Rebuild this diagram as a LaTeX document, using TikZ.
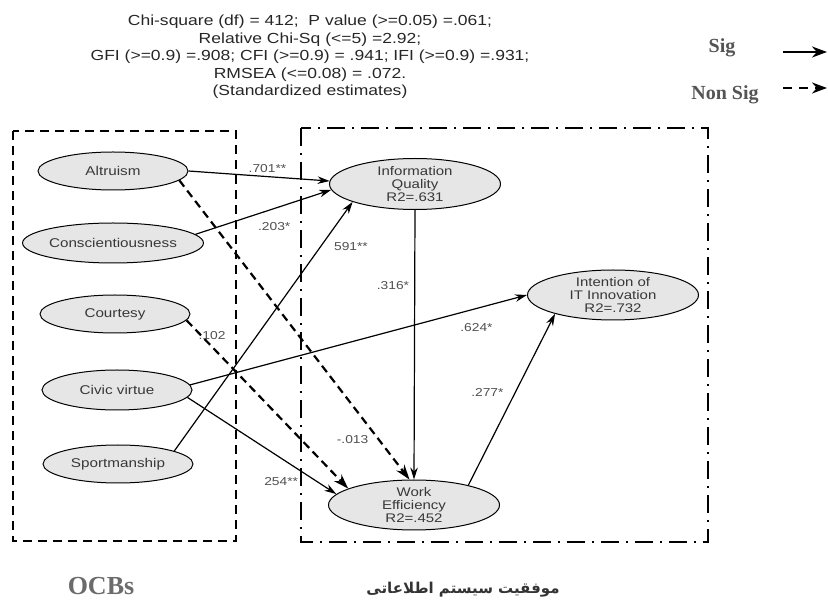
\documentclass[tikz,border=0pt]{standalone}
\usepackage{fontspec}
\setmainfont[FakeStretch=1.2]{Liberation Sans}
\newfontfamily\legendfont{Liberation Serif}
\newfontfamily\farsifont[Script=Arabic]{DejaVu Sans}
\TeXXeTstate=1
\usetikzlibrary{shapes.geometric, arrows.meta, positioning}
\definecolor{ellFill}{HTML}{E6E6E6}
\definecolor{ellText}{HTML}{383838}
\definecolor{lblGray}{HTML}{505050}
\definecolor{legGray}{HTML}{555555}
\definecolor{ocbGray}{HTML}{6B6B6B}
\tikzset{
    >={Stealth[length=12pt, width=7.5pt]},
    % Shapes
    latent/.style={ellipse, draw, line width=1pt, fill=ellFill, text=ellText,
                   minimum width=150pt, minimum height=38pt, inner sep=0pt,
                   font=\fontsize{12.7}{14}\selectfont},
    endo/.style={latent, minimum width=171pt, minimum height=51pt, align=center,
                 font=\fontsize{12.5}{12.8}\selectfont},
    hdr/.style={align=center, text=black!85, font=\fontsize{14.6}{17.5}\selectfont},
    legend/.style={text=legGray, font=\legendfont\bfseries\fontsize{20}{22}\selectfont},
    % Frames
    ocbFrame/.style={line width=2.2pt, dash pattern=on 9pt off 6pt},
    ismFrame/.style={line width=2.2pt, dash pattern=on 18pt off 7pt on 2pt off 7pt},
    % Flow & Labels
    sigPath/.style={->, line width=1.2pt},
    nsPath/.style={-{Stealth[length=15pt, width=10pt]}, line width=2.2pt, dash pattern=on 8pt off 5pt},
    legArrow/.style={-{Stealth[length=15pt, width=11pt]}, line width=2.2pt},
    lbl/.style={font=\fontsize{11.5}{13}\selectfont, text=lblGray, inner sep=1pt}
}

\begin{document}
\begin{tikzpicture}[x=1pt, y=-1pt]
\useasboundingbox (0,0) rectangle (828,601);

% fit indices
\node[hdr] (fitIdx) at (310,57) {Chi-square (df) = 412;~~P value (>=0.05) =.061;\\
    Relative Chi-Sq (<=5) =2.92;\\
    GFI (>=0.9) =.908; CFI (>=0.9) = .941; IFI (>=0.9) =.931;\\
    RMSEA (<=0.08) = .072.\\
    (Standardized estimates)};

% legend
\node[legend] (sigTxt) at (722,48) {Sig};
\node[legend] (nsTxt) at (725,95) {Non Sig};
\coordinate (sigFrom) at (783,52);
\coordinate (sigTo) at (827,52);
\coordinate (nsFrom) at (783,88);
\coordinate (nsTo) at (827,88);
\draw[legArrow] (sigFrom) -- (sigTo);
\draw[legArrow, dash pattern=on 9pt off 7pt] (nsFrom) -- (nsTo);

% frames
\draw[ocbFrame] (13,131) rectangle (236,541);
\draw[ismFrame] (301,128) rectangle (708,542);

% OCB dimensions
\node[latent] (alt) at (113,171) {Altruism};
\node[latent, minimum height=40pt] (consc) at (113,243) {Conscientiousness};
\node[latent] (court) at (115,314) {Courtesy};
\node[latent, minimum height=40pt] (civic) at (117,390) {Civic virtue};
\node[latent] (sport) at (118,464) {Sportmanship};

% IS success
\node[endo] (iq) at (415,184) {Information\\Quality\\R2=.631};
\node[endo, minimum height=50pt] (itinno) at (613,295) {Intention of\\IT Innovation\\R2=.732};
\node[endo, minimum height=50pt] (work) at (414,505) {Work\\Efficiency\\R2=.452};

% paths
\draw[sigPath] (alt.east) -- node[lbl, pos=.56, above=2pt] {.701**} (iq.178);
\draw[sigPath] (consc.6) -- node[lbl, pos=.58, below=12pt] {.203*} (iq.184);
\draw[sigPath] (sport.13) -- node[lbl, pos=.82, right=12pt] {591**} (iq.196);
\draw[nsPath] (alt.-8) -- node[lbl, pos=.865, left=8pt] {-.013} (work.100);
\draw[nsPath] (court.-5) -- node[lbl, pos=.09, xshift=11pt] {.102} (work.166);
\draw[sigPath] (civic.4) -- node[lbl, pos=.85, below=13pt] {.624*} (itinno.west);
\draw[sigPath] (civic.-6) -- node[lbl, pos=.63, below=18pt] {254**} (work.172);
\draw[sigPath] (iq.south) -- node[lbl, pos=.28, left=4pt] {.316*} (work.north);
\draw[sigPath] (work.20) -- node[lbl, pos=.54, left=10pt] {.277*} (itinno.198);

% group titles
\node[text=ocbGray, font=\legendfont\bfseries\fontsize{26}{28}\selectfont] (ocbTitle) at (101,586) {OCBs};
\node[text=black!80, font=\farsifont\bfseries\fontsize{15}{18}\selectfont] (ismTitle) at (463,590) {\beginR موفقیت سیستم اطلاعاتی\endR};

\end{tikzpicture}
\end{document}
